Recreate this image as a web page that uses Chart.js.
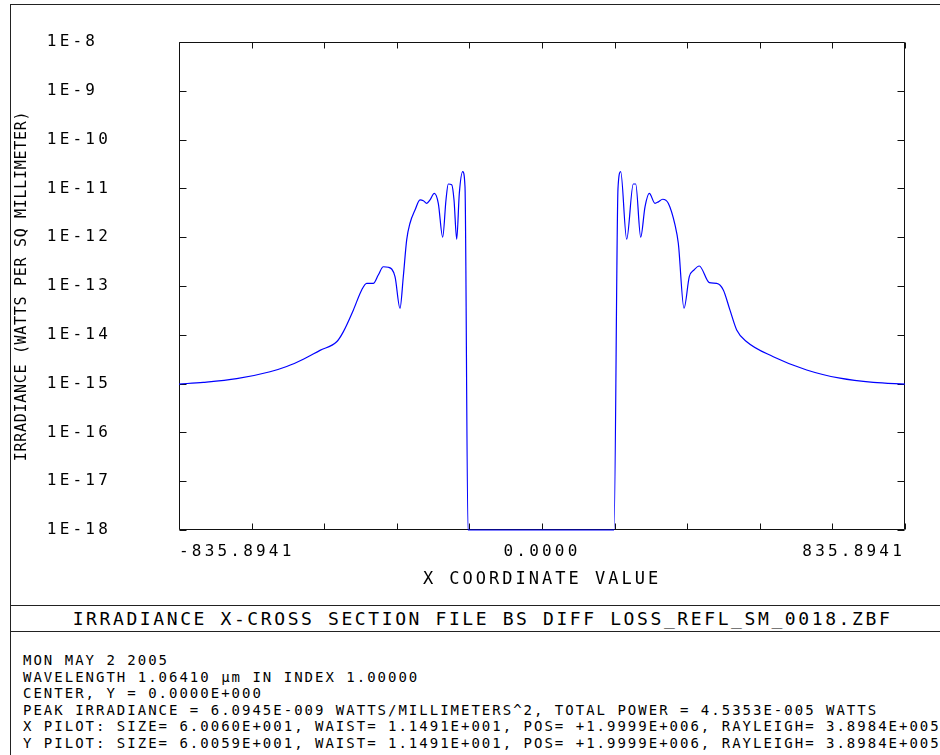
<!DOCTYPE html>
<html>
<head>
<meta charset="utf-8">
<title>Irradiance X-Cross Section</title>
<script src="https://cdn.jsdelivr.net/npm/chart.js@4.4.0/dist/chart.umd.min.js"></script>
<style>
    html, body {
        margin: 0;
        padding: 0;
        background: #fff;
    }
    body {
        position: relative;
        width: 940px;
        height: 755px;
        overflow: hidden;
        font-family: 'DejaVu Sans Mono', monospace;
        color: #000;
    }
    #frame {
        position: absolute;
        left: 10px;
        top: 4px;
        width: 945px;
        height: 800px;
        border: 1px solid #222;
    }
    .rule {
        position: absolute;
        left: 10px;
        width: 950px;
        height: 0;
        border-top: 1px solid #222;
    }
    #plotTitle {
        position: absolute;
        left: 10px;
        width: 945px;
        top: 610px;
        font-size: 18px;
        line-height: 18px;
        letter-spacing: 2.6px;
        text-align: center;
        white-space: nowrap;
    }
    #notes {
        position: absolute;
        left: 23px;
        top: 652px;
        font-size: 14px;
        line-height: 16.6px;
        letter-spacing: 2px;
        white-space: pre;
    }
    #chart {
        position: absolute;
        left: 0;
        top: 0;
    }
</style>
</head>
<body>
<div id="frame"></div>
<div class="rule" style="top:605px"></div>
<div class="rule" style="top:631px"></div>
<div id="plotTitle">IRRADIANCE X-CROSS SECTION FILE BS DIFF LOSS_REFL_SM_0018.ZBF</div>
<div id="notes">MON MAY 2 2005
WAVELENGTH 1.06410 µm IN INDEX 1.00000
CENTER, Y = 0.0000E+000
PEAK IRRADIANCE = 6.0945E-009 WATTS/MILLIMETERS^2, TOTAL POWER = 4.5353E-005 WATTS
X PILOT: SIZE= 6.0060E+001, WAIST= 1.1491E+001, POS= +1.9999E+006, RAYLEIGH= 3.8984E+005
Y PILOT: SIZE= 6.0059E+001, WAIST= 1.1491E+001, POS= +1.9999E+006, RAYLEIGH= 3.8984E+005</div>
<canvas id="chart" width="940" height="600"></canvas>

<script>
// x coordinate of each sample (same units as the axis)
const xCoord = [
    -835.9, -779.9, -703.0, -626.3, -587.9, -549.7, -511.2, -472.8, -457.6, -434.5,
    -415.2, -403.7, -388.5, -377.0, -365.4, -353.9, -338.5, -327.0, -319.4, -311.6,
    -304.0, -292.4, -280.9, -273.3, -265.5, -257.9, -248.0, -238.8, -228.7, -221.1,
    -215.8, -207.9, -202.6, -196.4, -190.4, -182.6, -177.3, -170.4,
    165.8, 175.0, 181.2, 195.0, 210.2, 215.8, 227.3, 237.2, 247.1, 260.2,
    267.8, 277.9, 290.8, 306.3, 313.9, 327.0, 339.2, 350.0, 362.2, 385.3,
    402.3, 417.5, 432.9, 448.3, 471.4, 532.6, 609.5, 686.2, 762.9, 835.9
];

// irradiance, watts per sq millimeter (1E-18 is the floor of the plot)
const irradiance = [
    9.8e-16, 1.06e-15, 1.26e-15, 1.75e-15, 2.24e-15, 3.16e-15, 4.8e-15, 7.2e-15, 1.15e-14, 3.2e-14,
    8.3e-14, 1.13e-13, 1.13e-13, 1.68e-13, 2.48e-13, 2.42e-13, 1.55e-13, 3.5e-14, 1.55e-13, 8.8e-13,
    1.93e-12, 3.6e-12, 5.8e-12, 5.6e-12, 4.95e-12, 5.8e-12, 7.9e-12, 4.95e-12, 1.0e-12, 5.8e-12,
    1.23e-11, 1.19e-11, 5.8e-12, 9.1e-13, 7.9e-12, 2.2e-11, 1.08e-11, 1e-18,
    1e-18, 1.0e-11, 2.2e-11, 9.1e-13, 1.23e-11, 1.23e-11, 1.0e-12, 4.2e-12, 7.9e-12, 4.95e-12,
    5.3e-12, 6.0e-12, 4.95e-12, 1.78e-12, 7.5e-13, 3.5e-14, 1.55e-13, 2.13e-13, 2.57e-13, 1.17e-13,
    1.13e-13, 8.3e-14, 3.2e-14, 1.26e-14, 7.2e-15, 3.56e-15, 1.9e-15, 1.29e-15, 1.06e-15, 9.8e-16
];

// axis ticks
const xTickValues = [-835.8941, -668.7153, -501.5365, -334.3576, -167.1788, 0,
    167.1788, 334.3576, 501.5365, 668.7153, 835.8941];
const xTickLabels = ['-835.8941', '', '', '', '', '0.0000', '', '', '', '', '835.8941'];
const yTickValues = [1e-18, 1e-17, 1e-16, 1e-15, 1e-14, 1e-13, 1e-12, 1e-11, 1e-10, 1e-9, 1e-8];
const yTickLabels = ['1E-18', '1E-17', '1E-16', '1E-15', '1E-14', '1E-13', '1E-12', '1E-11', '1E-10', '1E-9', '1E-8'];

const xTitle = 'X COORDINATE VALUE';
const yTitle = 'IRRADIANCE (WATTS PER SQ MILLIMETER)';

const FONT = "'DejaVu Sans Mono', monospace";

// wrap a scale draw method so its text gets some letter spacing
function spaced(fn, spacing) {
    return function() {
        const ctx = this.ctx;
        const prev = ctx.letterSpacing;
        ctx.letterSpacing = spacing;
        fn.apply(this, arguments);
        ctx.letterSpacing = prev;
    };
}

const letterSpacing = {
    id: 'letterSpacing',
    beforeDraw(chart) {
        const x = chart.scales.x;
        const y = chart.scales.y;
        if (x._spaced) return;
        x.drawLabels = spaced(x.drawLabels, '3.2px');
        x.drawTitle = spaced(x.drawTitle, '3px');
        y.drawLabels = spaced(y.drawLabels, '3.2px');
        y.drawTitle = spaced(y.drawTitle, '0.7px');
        x._spaced = y._spaced = true;
    }
};

// plot frame with inward tick marks on all four sides
const frameTicks = {
    id: 'frameTicks',
    beforeDatasetsDraw(chart) {
        const { ctx, chartArea: a, scales: { x, y } } = chart;
        const L = Math.round(a.left) + 0.5;
        const R = Math.round(a.right) - 0.5;
        const T = Math.round(a.top) + 0.5;
        const B = Math.round(a.bottom) - 0.5;
        ctx.save();
        ctx.strokeStyle = '#111';
        ctx.lineWidth = 1;
        ctx.beginPath();
        ctx.rect(L, T, R - L, B - T);
        x.ticks.forEach(t => {
            const p = Math.round(x.getPixelForValue(t.value)) + 0.5;
            ctx.moveTo(p, B); ctx.lineTo(p, B - 6);
            ctx.moveTo(p, T); ctx.lineTo(p, T + 6);
        });
        y.ticks.forEach(t => {
            const p = Math.round(y.getPixelForValue(t.value)) + 0.5;
            ctx.moveTo(L, p); ctx.lineTo(L + 7, p);
            ctx.moveTo(R, p); ctx.lineTo(R - 7, p);
        });
        ctx.stroke();
        ctx.restore();
    }
};

const points = xCoord.map((x, i) => ({ x: x, y: irradiance[i] }));

new Chart(document.getElementById('chart'), {
    type: 'line',
    data: {
        datasets: [{
            data: points,
            borderColor: '#0000ff',
            borderWidth: 1.2,
            pointRadius: 0,
            cubicInterpolationMode: 'monotone',
            clip: false
        }]
    },
    options: {
        responsive: false,
        devicePixelRatio: 1,
        animation: false,
        layout: {
            padding: { left: 9, top: 42, right: 35, bottom: 0 }
        },
        plugins: {
            legend: { display: false },
            tooltip: { enabled: false }
        },
        scales: {
            x: {
                type: 'linear',
                min: xTickValues[0],
                max: xTickValues[xTickValues.length - 1],
                grid: { display: false, drawTicks: false },
                border: { display: false },
                afterBuildTicks: scale => {
                    scale.ticks = xTickValues.map(v => ({ value: v }));
                },
                afterFit: scale => {
                    scale.height = 70;
                    scale.paddingLeft = 0;
                    scale.paddingRight = 0;
                },
                ticks: {
                    autoSkip: false,
                    maxRotation: 0,
                    align: 'inner',
                    padding: 12,
                    color: '#000',
                    font: { family: FONT, size: 16 },
                    callback: (value, index) => xTickLabels[index]
                },
                title: {
                    display: true,
                    text: xTitle,
                    color: '#000',
                    font: { family: FONT, size: 17 },
                    padding: { top: 0, bottom: 10 }
                }
            },
            y: {
                type: 'logarithmic',
                min: yTickValues[0],
                max: yTickValues[yTickValues.length - 1],
                grid: { display: false, drawTicks: false },
                border: { display: false },
                afterBuildTicks: scale => {
                    scale.ticks = yTickValues.map(v => ({ value: v }));
                },
                afterFit: scale => {
                    scale.width = 170;
                    scale.paddingTop = 0;
                    scale.paddingBottom = 0;
                },
                ticks: {
                    autoSkip: false,
                    crossAlign: 'near',
                    padding: 68,
                    color: '#000',
                    font: { family: FONT, size: 16 },
                    callback: (value, index) => yTickLabels[index].padEnd(5)
                },
                title: {
                    display: true,
                    text: yTitle,
                    color: '#000',
                    font: { family: FONT, size: 15 },
                    padding: { top: 4, bottom: 0 }
                }
            }
        }
    },
    plugins: [letterSpacing, frameTicks]
});
</script>
</body>
</html>
